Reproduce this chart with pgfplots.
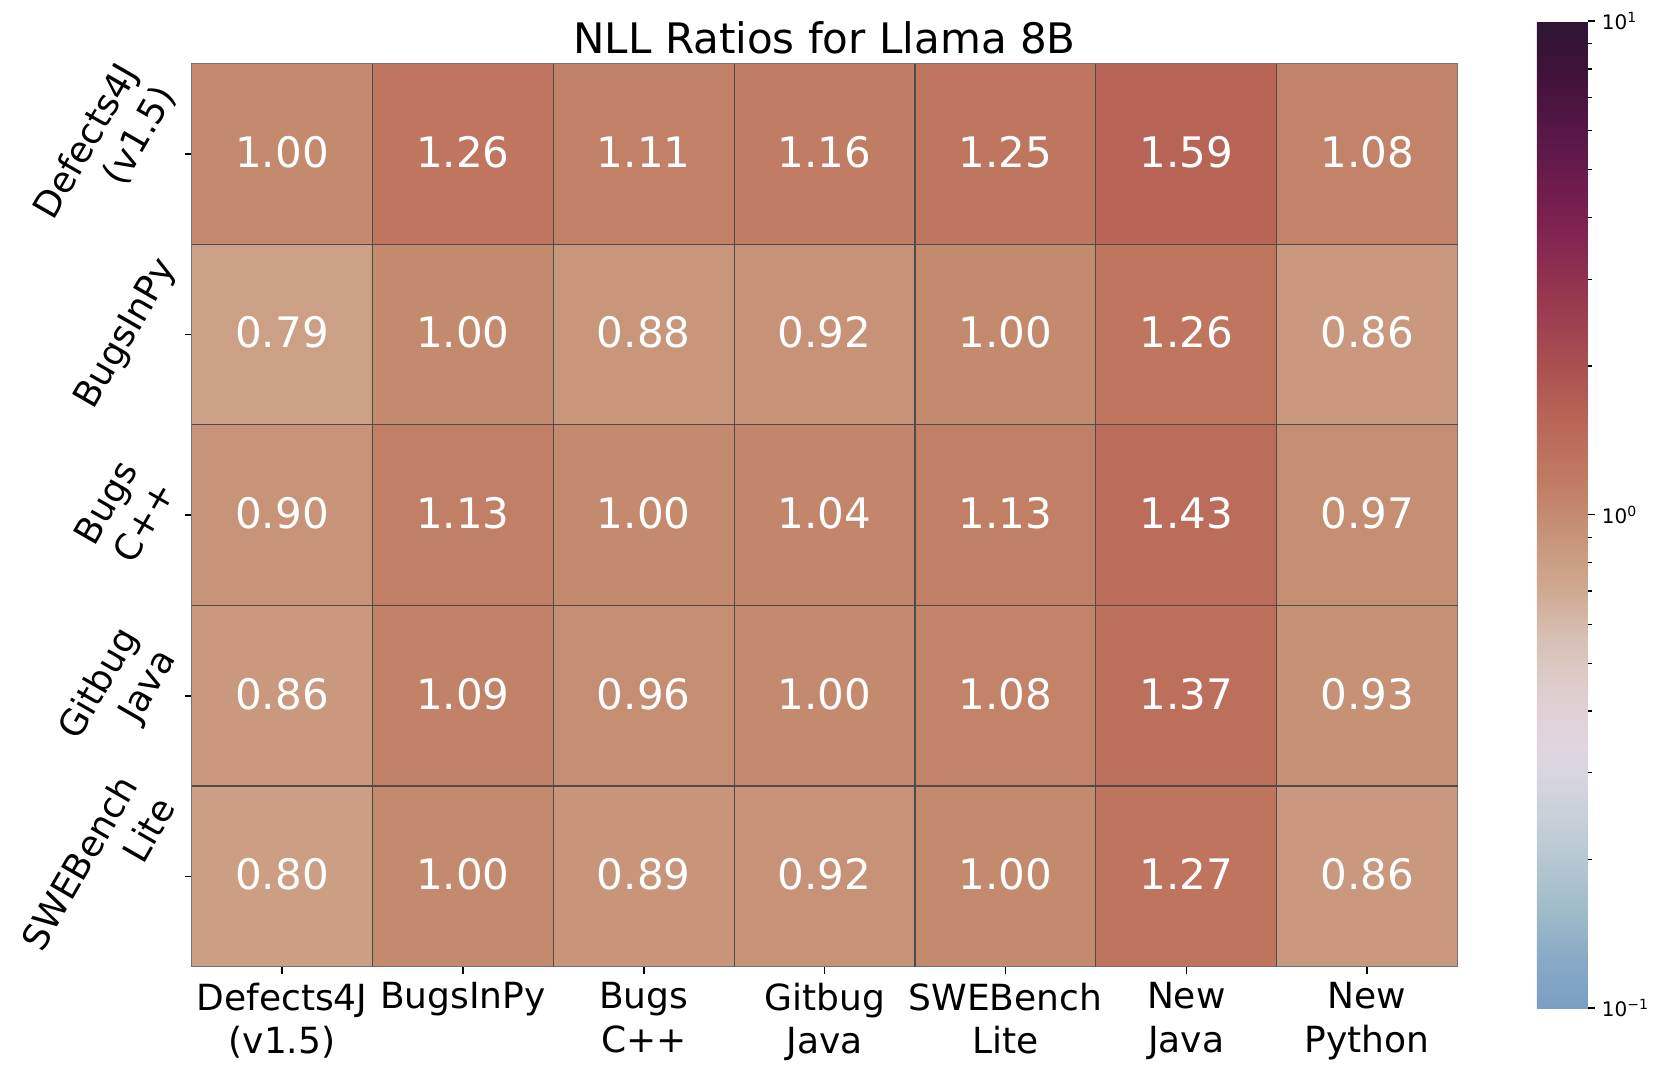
\documentclass[border=0pt]{standalone}
\usepackage{fontspec}
\setmainfont{DejaVu Sans}
\usepackage{pgfplots}
\pgfplotsset{compat=1.18}
\usepackage{pgfplotstable}

% NLL ratios, rows top to bottom, columns left to right
\pgfplotstableread{
x y v
0 0 1.00
1 0 1.26
2 0 1.11
3 0 1.16
4 0 1.25
5 0 1.59
6 0 1.08
0 1 0.79
1 1 1.00
2 1 0.88
3 1 0.92
4 1 1.00
5 1 1.26
6 1 0.86
0 2 0.90
1 2 1.13
2 2 1.00
3 2 1.04
4 2 1.13
5 2 1.43
6 2 0.97
0 3 0.86
1 3 1.09
2 3 0.96
3 3 1.00
4 3 1.08
5 3 1.37
6 3 0.93
0 4 0.80
1 4 1.00
2 4 0.89
3 4 0.92
4 4 1.00
5 4 1.27
6 4 0.86
}\nll

\pgfplotsset{
  colormap={nll}{
    rgb255(0pt)=(122,158,196);
    rgb255(10pt)=(137,170,198);
    rgb255(20pt)=(160,188,202);
    rgb255(35pt)=(192,205,213);
    rgb255(45pt)=(212,212,220);
    rgb255(53pt)=(224,214,224);
    rgb255(65pt)=(222,205,205);
    rgb255(75pt)=(216,192,180);
    rgb255(85pt)=(206,168,144);
    rgb255(90pt)=(204,160,134);
    rgb255(100pt)=(196,138,110);
    rgb255(110pt)=(191,117,94);
    rgb255(120pt)=(184,100,86);
    rgb255(130pt)=(170,80,80);
    rgb255(145pt)=(150,54,80);
    rgb255(160pt)=(124,32,80);
    rgb255(175pt)=(92,24,74);
    rgb255(190pt)=(62,18,58);
    rgb255(200pt)=(46,21,52)
  }
}

\newcommand\tl{\fontsize{18}{21.6}\selectfont}
\newcommand\ylab[1]{\rotatebox{60}{\begin{tabular}{@{}r@{}}#1\end{tabular}}}

\begin{document}
\begin{tikzpicture}
\useasboundingbox (0,0) rectangle (830pt,536pt);
\begin{axis}[
  at={(95.8pt,52.7pt)}, anchor=south west,
  scale only axis, width=633pt, height=451.5pt,
  xmin=-0.5, xmax=6.5, ymin=-0.5, ymax=4.5,
  y dir=reverse,
  axis on top,
  axis line style={black!55, line width=0.4pt},
  xtick={0,...,6}, ytick={0,...,4},
  xtick pos=bottom, ytick pos=left,
  tick align=outside,
  major tick length=3.5pt,
  tick style={black, line width=0.8pt},
  xticklabels={{Defects4J\\(v1.5)},BugsInPy,{Bugs\\C++},{Gitbug\\Java},{SWEBench\\Lite},{New\\Java},{New\\Python}},
  xticklabel style={font=\tl, align=center, yshift=-1pt},
  yticklabels={\ylab{Defects4J\\(v1.5)},\ylab{BugsInPy},\ylab{Bugs\\C++},\ylab{Gitbug\\Java},\ylab{SWEBench\\Lite}},
  yticklabel style={font=\tl, anchor=east, xshift=5pt},
  extra x ticks={0.5,1.5,...,5.5},
  extra y ticks={0.5,1.5,...,3.5},
  extra x tick labels={}, extra y tick labels={},
  extra x tick style={grid=major, major tick length=0pt},
  extra y tick style={grid=major, major tick length=0pt},
  major grid style={black!70, line width=0.6pt},
  title={NLL Ratios for Llama 8B},
  title style={font=\fontsize{21}{25}\selectfont, at={(0.5,1)}, anchor=base, yshift=-0.8pt},
  colormap name=nll,
  point meta min=-1, point meta max=1,
  colorbar,
  colorbar/width=25.5pt,
  colorbar style={
    at={(parent axis.north east)}, anchor=north west,
    xshift=31.1pt, yshift=21.25pt,
    scale only axis, width=25.5pt, height=493.5pt,
    axis line style={draw=none},
    ytick={-1,0,1},
    yticklabels={10\textsuperscript{−1},10\textsuperscript{0},10\textsuperscript{1}},
    minor ytick={-0.699,-0.523,-0.398,-0.301,-0.222,-0.155,-0.097,-0.046,
                 0.301,0.477,0.602,0.699,0.778,0.845,0.903,0.954},
    ytick pos=right, yticklabel pos=right,
    tick align=outside,
    major tick length=3.5pt, minor tick length=2pt,
    tick style={black, line width=0.8pt},
    minor tick style={black, line width=0.6pt},
    yticklabel style={font=\fontsize{10}{12}\selectfont},
  },
]
\addplot[matrix plot*, mesh/cols=7, point meta={ln(\thisrow{v})/ln(10)}]
  table[x=x, y=y] {\nll};
\addplot[draw=none, mark=none, nodes near coords, point meta=explicit symbolic,
  every node near coord/.append style={anchor=center, text=white,
    font=\fontsize{21}{25}\selectfont, yshift=1pt}]
  table[x=x, y=y, meta=v] {\nll};
\end{axis}
\end{tikzpicture}
\end{document}
